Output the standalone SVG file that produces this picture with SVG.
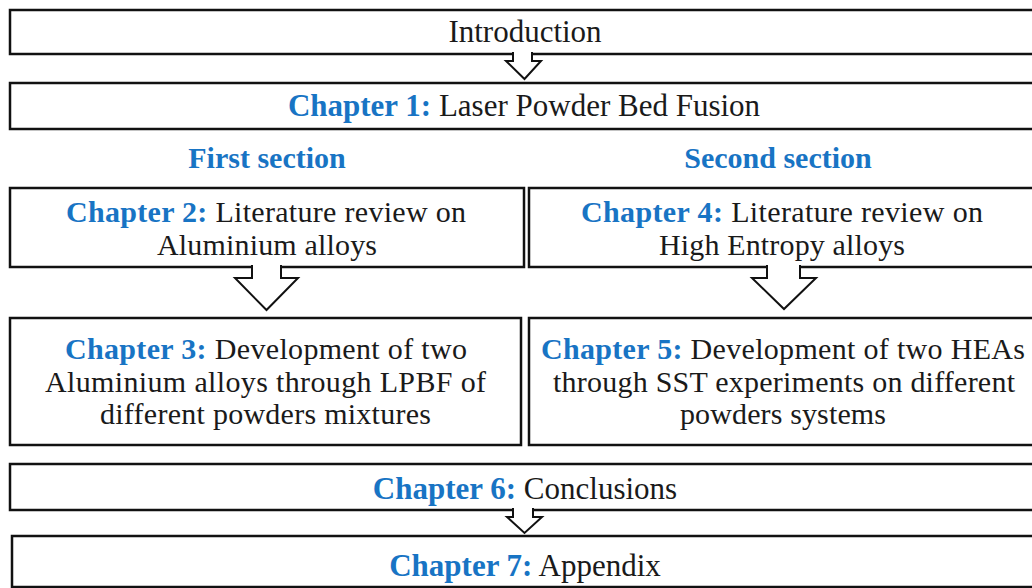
<svg xmlns="http://www.w3.org/2000/svg" width="1032" height="588" viewBox="0 0 1032 588">
<style>
.box{fill:#fff;stroke:#111;stroke-width:2.5}
.arr{fill:#fff;stroke:#111;stroke-width:2;stroke-linejoin:miter}
text{font-family:"Liberation Serif","Times New Roman",serif;font-size:30px;fill:#1a1a1a;text-anchor:middle}
.b{font-weight:bold;fill:#1874C4}
.tall{font-size:31px}
</style>
<rect width="1032" height="588" fill="#fff"/>
<g id="intro"><rect class="box" x="10" y="10" width="1032" height="44"/><text class="tall" x="525" y="42">Introduction</text></g>
<g id="ch1"><rect class="box" x="10" y="83" width="1032" height="46"/><text class="tall" x="524" y="116"><tspan class="b">Chapter 1:</tspan> Laser Powder Bed Fusion</text></g>
<g id="sec1"><text class="b" x="267" y="168">First section</text></g>
<g id="sec2"><text class="b" x="778" y="168">Second section</text></g>
<g id="ch2"><rect class="box" x="10" y="188" width="514" height="79"/>
<text x="266" y="222" textLength="400" lengthAdjust="spacing"><tspan class="b">Chapter 2:</tspan> Literature review on</text>
<text x="267" y="255" textLength="220" lengthAdjust="spacing">Aluminium alloys</text></g>
<g id="ch4"><rect class="box" x="529" y="188" width="512" height="79"/>
<text x="782" y="222" textLength="402" lengthAdjust="spacing"><tspan class="b">Chapter 4:</tspan> Literature review on</text>
<text x="782" y="255" textLength="246" lengthAdjust="spacing">High Entropy alloys</text></g>
<g id="ch3"><rect class="box" x="10" y="318" width="511" height="127"/>
<text x="266" y="359" textLength="402" lengthAdjust="spacing"><tspan class="b">Chapter 3:</tspan> Development of two</text>
<text x="265.5" y="392" textLength="441" lengthAdjust="spacing">Aluminium alloys through LPBF of</text>
<text x="265.5" y="424" textLength="331" lengthAdjust="spacing">different powders mixtures</text></g>
<g id="ch5"><rect class="box" x="529" y="318" width="512" height="127"/>
<text x="783" y="359" textLength="484" lengthAdjust="spacing"><tspan class="b">Chapter 5:</tspan> Development of two HEAs</text>
<text x="784" y="392" textLength="462" lengthAdjust="spacing">through SST experiments on different</text>
<text x="783" y="424" textLength="206" lengthAdjust="spacing">powders systems</text></g>
<g id="ch6"><rect class="box" x="10" y="464" width="1032" height="46"/><text class="tall" x="525" y="499"><tspan class="b">Chapter 6:</tspan> Conclusions</text></g>
<g id="ch7"><rect class="box" x="12" y="536" width="1032" height="51"/><text class="tall" x="525" y="576"><tspan class="b">Chapter 7:</tspan> Appendix</text></g>
<g id="connectors">
<path class="arr" d="M513,52 V61 H506 L524.5,79 L541,61 H532 V52"/>
<path class="arr" d="M252,265 V278 H235 L266.5,310 L298,278 H281 V265"/>
<path class="arr" d="M767,265 V278 H752 L784,309 L816,278 H800 V265"/>
<path class="arr" d="M513,508 V517 H507 L524.5,533 L542,517 H533 V508"/>
</g>
</svg>
